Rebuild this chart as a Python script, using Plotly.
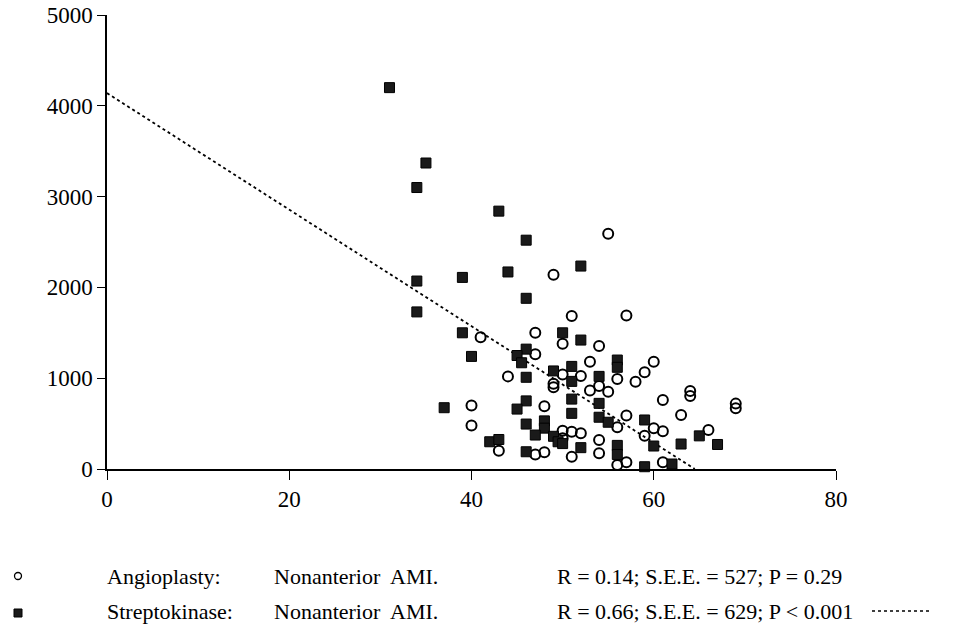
import plotly.graph_objects as go

# Streptokinase (filled squares)
sk_x = [31, 35, 34, 43, 46, 34, 39, 44, 46, 34, 52, 39, 50, 52, 40, 46, 45, 45.5, 46, 49,
        51, 51, 54, 56, 56, 51, 37, 46, 45, 54, 46, 48, 48, 51, 54, 55, 47, 49, 49.5, 50,
        42, 43, 46, 52, 56, 56, 59, 60, 63, 65, 67, 59, 62]
sk_y = [4200, 3370, 3100, 2840, 2520, 2070, 2110, 2170, 1880, 1730, 2235, 1500, 1500, 1420, 1240, 1320, 1250, 1170, 1010, 1080,
        1130, 965, 1020, 1200, 1120, 770, 675, 750, 660, 723, 495, 530, 450, 613, 570, 515, 374, 360, 300, 280,
        300, 325, 190, 235, 260, 160, 540, 253, 275, 365, 270, 25, 55]

# Angioplasty (open circles)
ap_x = [49, 55, 51, 57, 41, 47, 50, 47, 54, 53, 56, 44, 50, 49, 49, 52, 58, 59, 60, 53,
        54, 55, 40, 40, 48, 61, 64, 64, 69, 69, 43, 47, 48, 50, 51, 52, 50, 51, 57, 56,
        63, 60, 59, 61, 66, 54, 54, 56, 57, 61]
ap_y = [2140, 2590, 1685, 1690, 1450, 1500, 1380, 1265, 1355, 1180, 990, 1020, 1040, 940, 900, 1024, 960, 1065, 1180, 865,
        914, 851, 700, 480, 690, 760, 860, 805, 720, 670, 202, 160, 184, 420, 411, 393, 338, 135, 590, 459,
        595, 448, 365, 415, 430, 319, 173, 44, 75, 75]

# Streptokinase regression line end points
fit_x = [0, 64.5]
fit_y = [4140, 0]

x_ticks = [0, 20, 40, 60, 80]
y_ticks = [0, 1000, 2000, 3000, 4000, 5000]

legend_rows = [
    ("Angioplasty:", "Nonanterior  AMI.", "R = 0.14; S.E.E. = 527; P = 0.29"),
    ("Streptokinase:", "Nonanterior  AMI.", "R = 0.66; S.E.E. = 629; P < 0.001"),
]

FONT = "Liberation Serif, Times New Roman, serif"

fig = go.Figure()
fig.add_trace(go.Scatter(x=fit_x, y=fit_y, mode="lines",
                         line=dict(color="black", width=1.8, dash="dot"),
                         showlegend=False, hoverinfo="skip"))
fig.add_trace(go.Scatter(x=ap_x, y=ap_y, mode="markers",
                         marker=dict(symbol="circle-open", size=10, color="black",
                                     line=dict(width=2, color="black")),
                         showlegend=False, cliponaxis=False))
fig.add_trace(go.Scatter(x=sk_x, y=sk_y, mode="markers",
                         marker=dict(symbol="square", size=10, color="#1a1a1a",
                                     line=dict(width=1, color="black")),
                         showlegend=False, cliponaxis=False))

L, R, T, B = 107, 836, 15, 469
W, H = R - L, B - T

def px(x):
    return (x - L) / W

def py(y):
    return (B - y) / H

row_y = [576, 611]
col_x = [105, 272, 555]
annotations = []
for ry, row in zip(row_y, legend_rows):
    for cx, txt in zip(col_x, row):
        annotations.append(dict(text=txt, x=px(cx), y=py(ry), xref="paper", yref="paper",
                                xanchor="left", yanchor="middle", showarrow=False,
                                font=dict(family=FONT, size=22, color="black")))

shapes = [
    dict(type="circle", xref="paper", yref="paper", xsizemode="pixel", ysizemode="pixel",
         xanchor=px(18), yanchor=py(576), x0=-3.5, x1=3.5, y0=-3.5, y1=3.5,
         line=dict(color="black", width=1.3), fillcolor="white"),
    dict(type="rect", xref="paper", yref="paper", xsizemode="pixel", ysizemode="pixel",
         xanchor=px(18), yanchor=py(613), x0=-4, x1=4, y0=-4, y1=4,
         line=dict(color="black", width=1), fillcolor="#1a1a1a"),
    dict(type="line", xref="paper", yref="paper", x0=px(872), x1=px(932), y0=py(611), y1=py(611),
         line=dict(color="black", width=1.4, dash="dot")),
]

fig.update_layout(
    width=963, height=626,
    margin=dict(l=L, r=963 - R, t=T, b=626 - B, autoexpand=False),
    paper_bgcolor="white", plot_bgcolor="white",
    font=dict(family=FONT, size=23, color="black"),
    annotations=annotations, shapes=shapes,
    xaxis=dict(range=[0, 80], tickvals=x_ticks, ticktext=[str(v) for v in x_ticks],
               automargin=False,
               showgrid=False, zeroline=False, showline=True, linecolor="black", linewidth=1.5,
               ticks="outside", ticklen=9, tickwidth=1.3, tickcolor="black",
               tickfont=dict(family=FONT, size=23)),
    yaxis=dict(range=[0, 5000], tickvals=y_ticks, ticktext=[str(v) for v in y_ticks],
               automargin=False,
               showgrid=False, zeroline=False, showline=True, linecolor="black", linewidth=1.5,
               ticks="outside", ticklen=8, tickwidth=1.3, tickcolor="black",
               tickfont=dict(family=FONT, size=23)),
)

fig.write_html("out.html", config={"displayModeBar": False},
               post_script="document.body.style.margin='0px';document.body.style.overflow='hidden';")
